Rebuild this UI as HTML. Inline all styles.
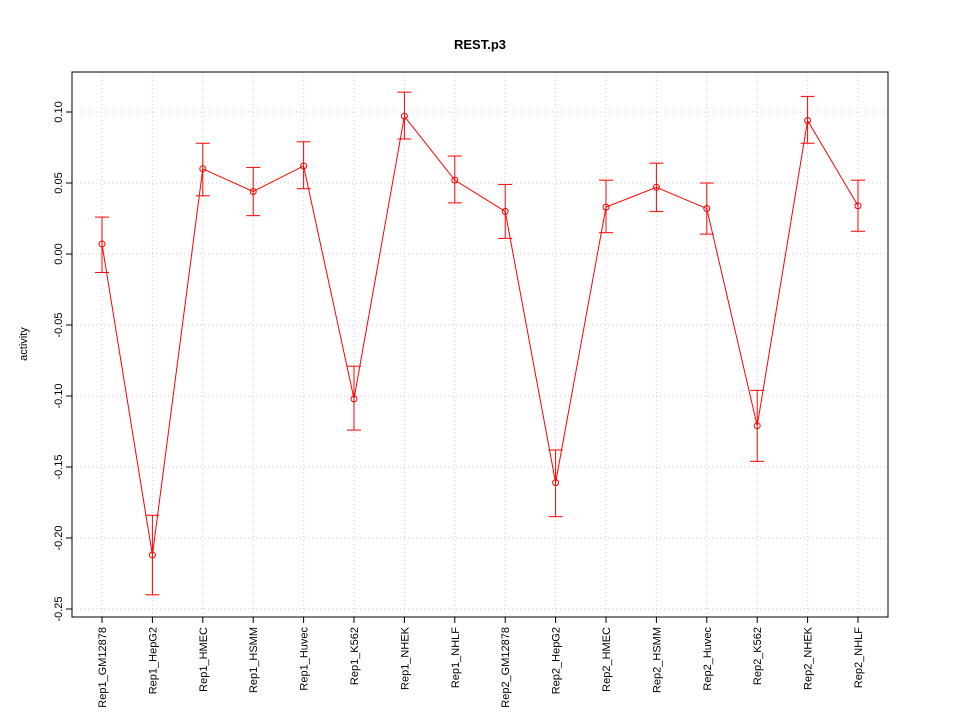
<!DOCTYPE html>
<html><head><meta charset="utf-8"><style>
html,body{margin:0;padding:0;background:#fff;}
svg{display:block;font-family:"Liberation Sans",sans-serif;}
</style></head><body>
<svg id="chart" width="960" height="720"></svg>
<script>
const categories=["Rep1_GM12878","Rep1_HepG2","Rep1_HMEC","Rep1_HSMM","Rep1_Huvec","Rep1_K562","Rep1_NHEK","Rep1_NHLF","Rep2_GM12878","Rep2_HepG2","Rep2_HMEC","Rep2_HSMM","Rep2_Huvec","Rep2_K562","Rep2_NHEK","Rep2_NHLF"];
const values=[0.007,-0.212,0.060,0.044,0.062,-0.102,0.097,0.052,0.030,-0.161,0.033,0.047,0.032,-0.121,0.094,0.034];
const upper=[0.026,-0.184,0.078,0.061,0.079,-0.079,0.114,0.069,0.049,-0.138,0.052,0.064,0.050,-0.096,0.111,0.052];
const lower=[-0.013,-0.240,0.041,0.027,0.046,-0.124,0.081,0.036,0.011,-0.185,0.015,0.030,0.014,-0.146,0.078,0.016];
const yTicks=[-0.25,-0.20,-0.15,-0.10,-0.05,0.00,0.05,0.10];
const yTickLabels=["-0.25","-0.20","-0.15","-0.10","-0.05","0.00","0.05","0.10"];

const svg=document.getElementById('chart');
const NS="http://www.w3.org/2000/svg";
function mk(tag,attrs,parent){const e=document.createElementNS(NS,tag);for(const k in attrs)e.setAttribute(k,attrs[k]);(parent||svg).appendChild(e);return e;}
const L=72,R=888,T=72,B=617;
function y(v){return 254-(v*1420);}
function x(i){return 102+i*(858-102)/(categories.length-1);}

let e=mk('text',{x:480,y:49,'text-anchor':'middle','font-size':13,'font-weight':'bold'});e.textContent="REST.p3";


e=mk('text',{x:0,y:0,transform:'translate(27,344) rotate(-90)','text-anchor':'middle','font-size':11});e.textContent="activity";



categories.forEach((c,i)=>{const g=mk('line',{x1:x(i),x2:x(i),y1:T,y2:B,stroke:'#cccccc','stroke-dasharray':'1,3'});

});
yTicks.forEach(v=>{const g=mk('line',{x1:L,x2:R,y1:y(v),y2:y(v),stroke:'#cccccc','stroke-dasharray':'1,3'});

});

e=mk('rect',{x:L,y:T,width:R-L,height:B-T,fill:'none',stroke:'#000'});



yTicks.forEach((v,i)=>{mk('line',{x1:L-6,x2:L,y1:y(v),y2:y(v),stroke:'#000'});
const t=mk('text',{x:0,y:0,transform:`translate(${L-10},${y(v)}) rotate(-90)`,'text-anchor':'middle','font-size':11});t.textContent=yTickLabels[i];

});
categories.forEach((c,i)=>{mk('line',{x1:x(i),x2:x(i),y1:B,y2:B+6,stroke:'#000'});
const t=mk('text',{x:0,y:0,transform:`translate(${x(i)+4},${B+10}) rotate(-90)`,'text-anchor':'end','font-size':11});t.textContent=c;

});

e=mk('polyline',{points:values.map((v,i)=>x(i)+','+y(v)).join(' '),fill:'none',stroke:'#ff0000'});


values.forEach((v,i)=>{
 const g=mk('g',{stroke:'#ff0000',fill:'none'});
 
 
 mk('line',{x1:x(i),x2:x(i),y1:y(upper[i]),y2:y(lower[i])},g);
 mk('line',{x1:x(i)-7,x2:x(i)+7,y1:y(upper[i]),y2:y(upper[i])},g);
 mk('line',{x1:x(i)-7,x2:x(i)+7,y1:y(lower[i]),y2:y(lower[i])},g);
 const p=mk('circle',{cx:x(i),cy:y(v),r:3,fill:'none',stroke:'#ff0000'});
 
 
});
</script>
</body></html>
